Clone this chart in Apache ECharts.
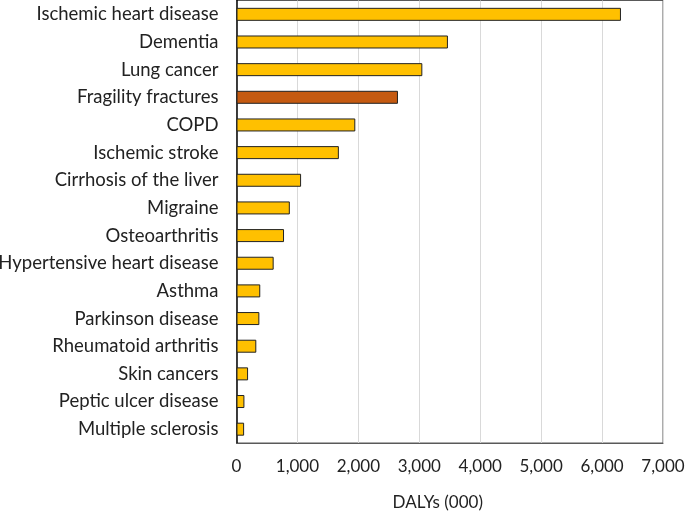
<!DOCTYPE html>
<html>
<head>
<meta charset="utf-8">
<script src="https://cdn.jsdelivr.net/npm/echarts@6/dist/echarts.min.js"></script>
<style>html,body{margin:0;padding:0;background:#fff}#c{width:685px;height:514px}</style>
</head>
<body>
<div id="c"></div>
<script>
var categories = ["Ischemic heart disease","Dementia","Lung cancer","Fragility fractures","COPD","Ischemic stroke","Cirrhosis of the liver","Migraine","Osteoarthritis","Hypertensive heart disease","Asthma","Parkinson disease","Rheumatoid arthritis","Skin cancers","Peptic ulcer disease","Multiple sclerosis"];
var dalys = [6310, 3470, 3050, 2650, 1950, 1680, 1060, 875, 780, 610, 390, 375, 325, 190, 130, 125];
var highlighted = ["Fragility fractures"];
var xTickLabels = ["0","1,000","2,000","3,000","4,000","5,000","6,000","7,000"];
var xAxisTitle = "DALYs (000)";

var FONT = "Lato, 'Open Sans', sans-serif";
var chart = echarts.init(document.getElementById('c'), null, {renderer: 'canvas'});
chart.setOption({
  backgroundColor: '#ffffff',
  animation: false,
  grid: {left: 236.5, right: 22, top: 0.5, bottom: 71, show: true, borderColor: '#595959', borderWidth: 1,
         containLabel: false, outerBoundsMode: 'none'},
  xAxis: {
    type: 'value', min: 0, max: 7000, interval: 1000,
    name: xAxisTitle, nameLocation: 'middle', nameGap: 51,
    nameTextStyle: {fontFamily: FONT, fontSize: 17, color: '#222', padding: [0, 24, 0, 0]},
    axisLine: {show: true, lineStyle: {color: '#595959', width: 1}},
    axisTick: {show: false},
    axisLabel: {fontFamily: FONT, fontSize: 17, color: '#222', margin: 15,
      formatter: function (v) { return xTickLabels[Math.round(v / 1000)]; }},
    splitLine: {show: true, lineStyle: {color: '#d9d9d9', width: 1}}
  },
  yAxis: {
    type: 'category', data: categories, inverse: true,
    axisLine: {show: true, lineStyle: {color: '#000', width: 1.5}},
    axisTick: {show: false},
    axisLabel: {fontFamily: FONT, fontSize: 18.5, color: '#222', margin: 18}
  },
  series: [{
    type: 'bar',
    barWidth: 13,
    data: dalys.map(function (v, i) {
      var hi = highlighted.indexOf(categories[i]) >= 0;
      return {value: v, itemStyle: {color: hi ? '#C55A11' : '#FFC000', borderColor: '#222', borderWidth: 1}};
    })
  }]
});
</script>
</body>
</html>
